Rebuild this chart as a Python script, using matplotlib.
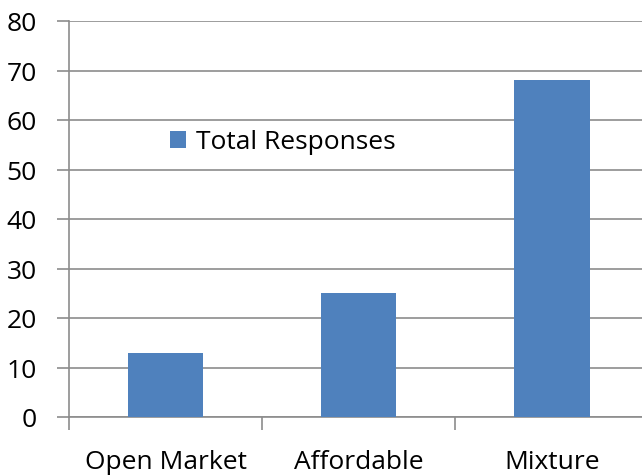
import matplotlib
matplotlib.use("Agg")
import matplotlib.pyplot as plt

categories = ["Open Market", "Affordable", "Mixture"]
responses = [13, 25, 68]
series_label = "Total Responses"
y_ticks = [0, 10, 20, 30, 40, 50, 60, 70, 80]

plt.rcParams['font.family'] = ['Open Sans', 'DejaVu Sans']

fig = plt.figure(figsize=(6.42, 4.77), dpi=100)
W, H = 642, 477
ax = fig.add_axes([69 / W, (H - 418) / H, (648.5 - 69) / W, (418 - 22) / H])

grid_c = "#8c8c8c"
x = list(range(len(categories)))
ax.bar(x, responses, width=0.39, color="#4f81bd", label=series_label, zorder=3)

ax.set_xlim(-0.5, len(categories) - 0.5)
ax.set_ylim(0, 80)
ax.set_yticks(y_ticks)
ax.yaxis.grid(True, color=grid_c, linewidth=1.2, zorder=0)

ax.set_xticks(x)
ax.set_xticklabels(categories)
ax.set_xticks([i - 0.5 for i in range(len(categories) + 1)], minor=True)
ax.tick_params(axis="x", which="major", length=0, pad=23, labelsize=19)
ax.tick_params(axis="x", which="minor", length=9, width=1.2, color=grid_c)
ax.tick_params(axis="y", length=9, width=1.2, color=grid_c, pad=14, labelsize=19)

for s in ["top", "right"]:
    ax.spines[s].set_visible(False)
for s in ["left", "bottom"]:
    ax.spines[s].set_color(grid_c)
    ax.spines[s].set_linewidth(1.2)

ax.legend(loc="center left", bbox_to_anchor=((146 - 69) / 579.5, (418 - 143) / 396),
          frameon=False, fontsize=19, handlelength=0.6, handleheight=0.6,
          handletextpad=0.4)

fig.savefig("out.png", dpi=100)
